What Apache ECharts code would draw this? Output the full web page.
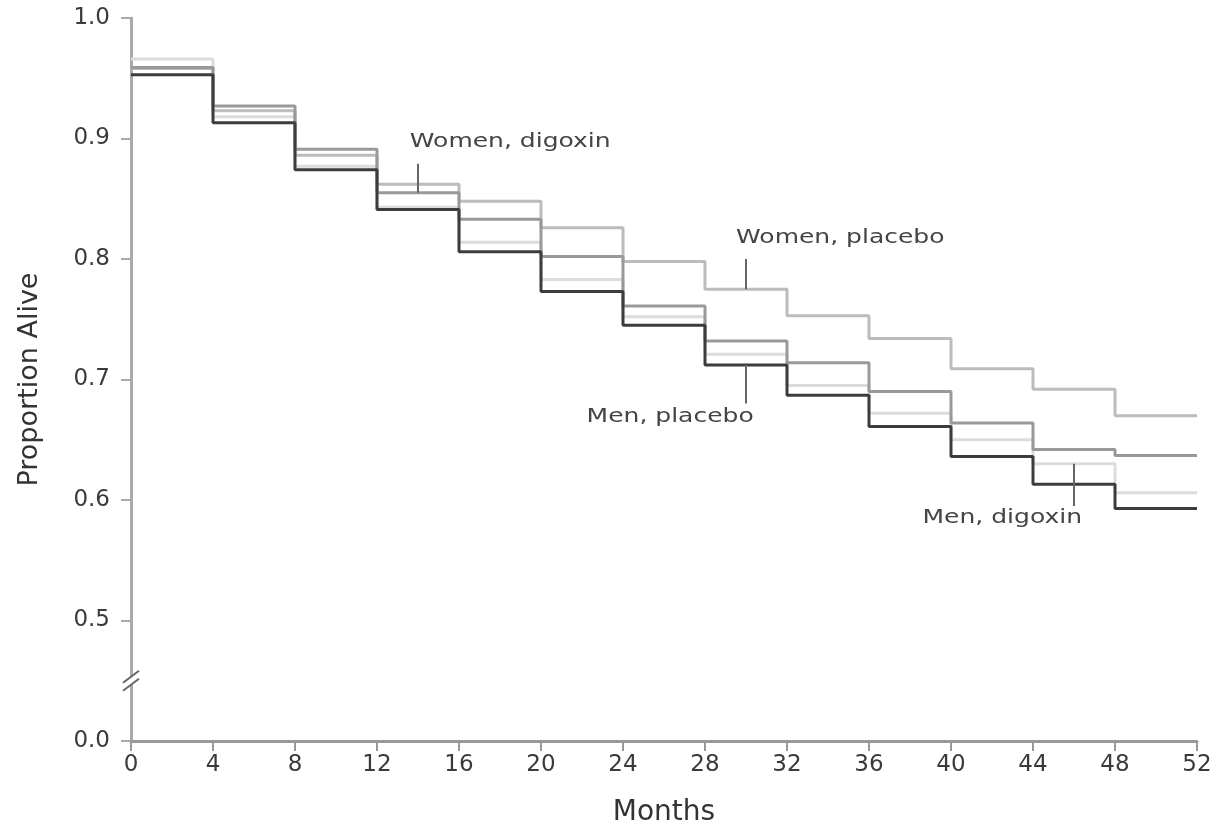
<!DOCTYPE html>
<html>
<head>
<meta charset="utf-8">
<script src="https://cdn.jsdelivr.net/npm/echarts@6/dist/echarts.min.js"></script>
<style>
  html, body { margin: 0; padding: 0; background: #fff; }
  #chart { width: 1217px; height: 832px; }
</style>
</head>
<body>
<div id="chart"></div>
<script>
// months where each step starts (last value is held to month 52)
var months = [0, 4, 8, 12, 16, 20, 24, 28, 32, 36, 40, 44, 48];
var endMonth = 52;

var womenPlacebo = [0.958, 0.923, 0.886, 0.862, 0.848, 0.826, 0.798, 0.775, 0.753, 0.734, 0.709, 0.692, 0.670];
var womenDigoxin = [0.959, 0.927, 0.891, 0.855, 0.833, 0.802, 0.761, 0.732, 0.714, 0.690, 0.664, 0.642, 0.637];
var menDigoxin   = [0.966, 0.918, 0.877, 0.843, 0.814, 0.783, 0.752, 0.721, 0.695, 0.672, 0.650, 0.630, 0.606];
var menPlacebo   = [0.953, 0.913, 0.874, 0.841, 0.806, 0.773, 0.745, 0.712, 0.687, 0.661, 0.636, 0.613, 0.593];

var xTicks = [0, 4, 8, 12, 16, 20, 24, 28, 32, 36, 40, 44, 48, 52];

// labels with their pointer: [text, pointer month, from value, to value, text month, text value]
var notes = [
    ['Women, digoxin', 14, 0.855, 0.879, 18.5, 0.897],
    ['Women, placebo', 30, 0.775, 0.800, 34.6, 0.818],
    ['Men, placebo',   30, 0.712, 0.680, 26.3, 0.669],
    ['Men, digoxin',   46, 0.630, 0.595, 42.5, 0.585]
];

function toSteps(vals) {
    var d = months.map(function (m, i) { return [m, vals[i]]; });
    d.push([endMonth, vals[vals.length - 1]]);
    return d;
}

var chart = echarts.init(document.getElementById('chart'));

function stepSeries(name, vals, color) {
    return {
        name: name,
        type: 'line',
        step: 'end',
        data: toSteps(vals),
        symbol: 'none',
        lineStyle: { color: color, width: 3 },
        animation: false
    };
}

var labelFont = 'DejaVu Sans';

var option = {
    backgroundColor: '#fff',
    grid: { left: 131, right: 20, top: 18, bottom: 87 },
    xAxis: {
        type: 'value',
        min: 0, max: 52, interval: 4,
        name: 'Months',
        nameLocation: 'middle',
        nameGap: 58,
        nameTextStyle: { fontFamily: labelFont, fontSize: 28, color: '#333' },
        axisLine: { lineStyle: { color: '#999', width: 3 } },
        axisTick: { show: true, length: 10, lineStyle: { color: '#999', width: 2 } },
        axisLabel: {
            margin: 13, fontFamily: labelFont, fontSize: 23, color: '#3a3a3a',
            customValues: xTicks
        },
        splitLine: { show: false }
    },
    yAxis: {
        type: 'value',
        min: 0.4, max: 1.0, interval: 0.1,
        name: 'Proportion Alive',
        nameLocation: 'middle',
        nameGap: 88,
        nameTextStyle: { fontFamily: labelFont, fontSize: 27, color: '#333' },
        axisLine: { show: true, onZero: false, lineStyle: { color: '#aaa', width: 3 } },
        axisTick: { show: true, length: 10, inside: false, lineStyle: { color: '#aaa', width: 2 } },
        axisLabel: {
            margin: 21, fontFamily: labelFont, fontSize: 23, color: '#3a3a3a',
            formatter: function (v) {
                // bottom of the broken axis stands for 0.0
                if (v < 0.45) return '0.0';
                return v.toFixed(1);
            }
        },
        splitLine: { show: false }
    },
    series: [
        stepSeries('Men, digoxin', menDigoxin, '#dcdcdc'),
        stepSeries('Women, placebo', womenPlacebo, '#bcbcbc'),
        stepSeries('Women, digoxin', womenDigoxin, '#999999'),
        stepSeries('Men, placebo', menPlacebo, '#3c3c3c')
    ]
};

chart.setOption(option);

// annotations and axis break marker, placed through the chart's own scales
var g = [];
notes.forEach(function (n) {
    var p1 = chart.convertToPixel({ gridIndex: 0 }, [n[1], n[2]]);
    var p2 = chart.convertToPixel({ gridIndex: 0 }, [n[1], n[3]]);
    var pt = chart.convertToPixel({ gridIndex: 0 }, [n[4], n[5]]);
    g.push({
        type: 'line',
        shape: { x1: p1[0], y1: p1[1], x2: p2[0], y2: p2[1] },
        style: { stroke: '#666', lineWidth: 2 },
        z: 10
    });
    g.push({
        type: 'text',
        x: pt[0], y: pt[1],
        scaleX: 1.25,
        style: {
            text: n[0], fill: '#444',
            font: '20px "DejaVu Sans"',
            align: 'center', verticalAlign: 'middle'
        },
        z: 10
    });
});

var br = chart.convertToPixel({ gridIndex: 0 }, [0, 0.45]);
g.push({
    type: 'rect',
    shape: { x: br[0] - 3, y: br[1] - 4, width: 6, height: 8 },
    style: { fill: '#fff' },
    z: 9
});
[-4, 4].forEach(function (dy) {
    g.push({
        type: 'line',
        shape: { x1: br[0] - 8, y1: br[1] + dy + 6, x2: br[0] + 8, y2: br[1] + dy - 6 },
        style: { stroke: '#666', lineWidth: 2 },
        z: 10
    });
});

chart.setOption({ graphic: g });
</script>
</body>
</html>
